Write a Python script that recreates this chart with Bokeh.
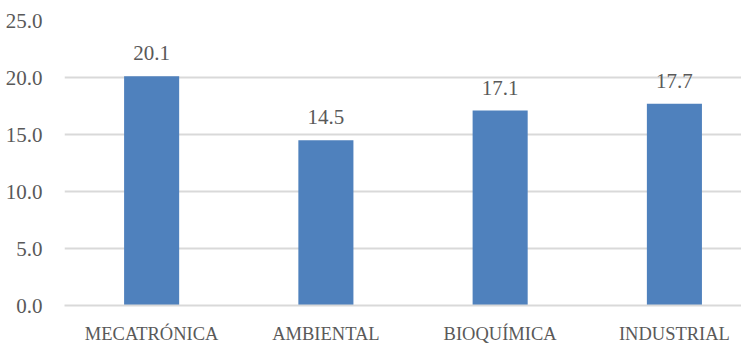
from bokeh.plotting import figure
from bokeh.models import ColumnDataSource, Range1d, FixedTicker, LabelSet, NumeralTickFormatter
from bokeh.embed import file_html
from bokeh.resources import INLINE

# Data
categories = ["MECATRÓNICA", "AMBIENTAL", "BIOQUÍMICA", "INDUSTRIAL"]
values = [20.1, 14.5, 17.1, 17.7]
y_ticks = [0, 5, 10, 15, 20, 25]

positions = [i + 0.5 for i in range(len(categories))]
labels = [f"{v:.1f}" for v in values]

src = ColumnDataSource(dict(x=positions, top=values, label=labels))

FONT = "Liberation Serif"
TEXT = "#595959"
GRID = "#d9d9d9"

p = figure(width=741, height=346, output_backend="svg", toolbar_location=None,
           x_range=Range1d(0, 3.885), y_range=Range1d(0, 25),
           min_border_left=64, min_border_right=0, min_border_top=20, min_border_bottom=40)
p.outline_line_color = None
p.background_fill_color = "white"
p.border_fill_color = "white"

p.vbar(x="x", top="top", width=0.316, bottom=0, source=src,
       fill_color="#4f81bd", line_color=None)

p.add_layout(LabelSet(x="x", y="top", text="label", source=src, y_offset=16,
                      text_align="center", text_baseline="bottom",
                      text_font=FONT, text_font_size="21px", text_color=TEXT))

# y axis
p.yaxis.ticker = FixedTicker(ticks=y_ticks)
p.yaxis.formatter = NumeralTickFormatter(format="0.0")
p.yaxis.axis_line_color = None
p.yaxis.major_tick_line_color = None
p.yaxis.minor_tick_line_color = None
p.yaxis.major_label_text_font = FONT
p.yaxis.major_label_text_font_size = "21px"
p.yaxis.major_label_text_color = TEXT
p.yaxis.major_label_standoff = 16

# x axis with category labels
p.xaxis.ticker = FixedTicker(ticks=positions)
p.xaxis.major_label_overrides = {pos: c for pos, c in zip(positions, categories)}
p.xaxis.axis_line_color = GRID
p.xaxis.axis_line_width = 2
p.xaxis.major_tick_line_color = None
p.xaxis.minor_tick_line_color = None
p.xaxis.major_label_text_font = FONT
p.xaxis.major_label_text_font_size = "18.5px"
p.xaxis.major_label_text_color = TEXT
p.xaxis.major_label_standoff = 12

p.xgrid.grid_line_color = None
p.ygrid.ticker = FixedTicker(ticks=y_ticks)
p.ygrid.grid_line_color = GRID
p.ygrid.grid_line_width = 2

open("out.html", "w").write(file_html(p, INLINE))
